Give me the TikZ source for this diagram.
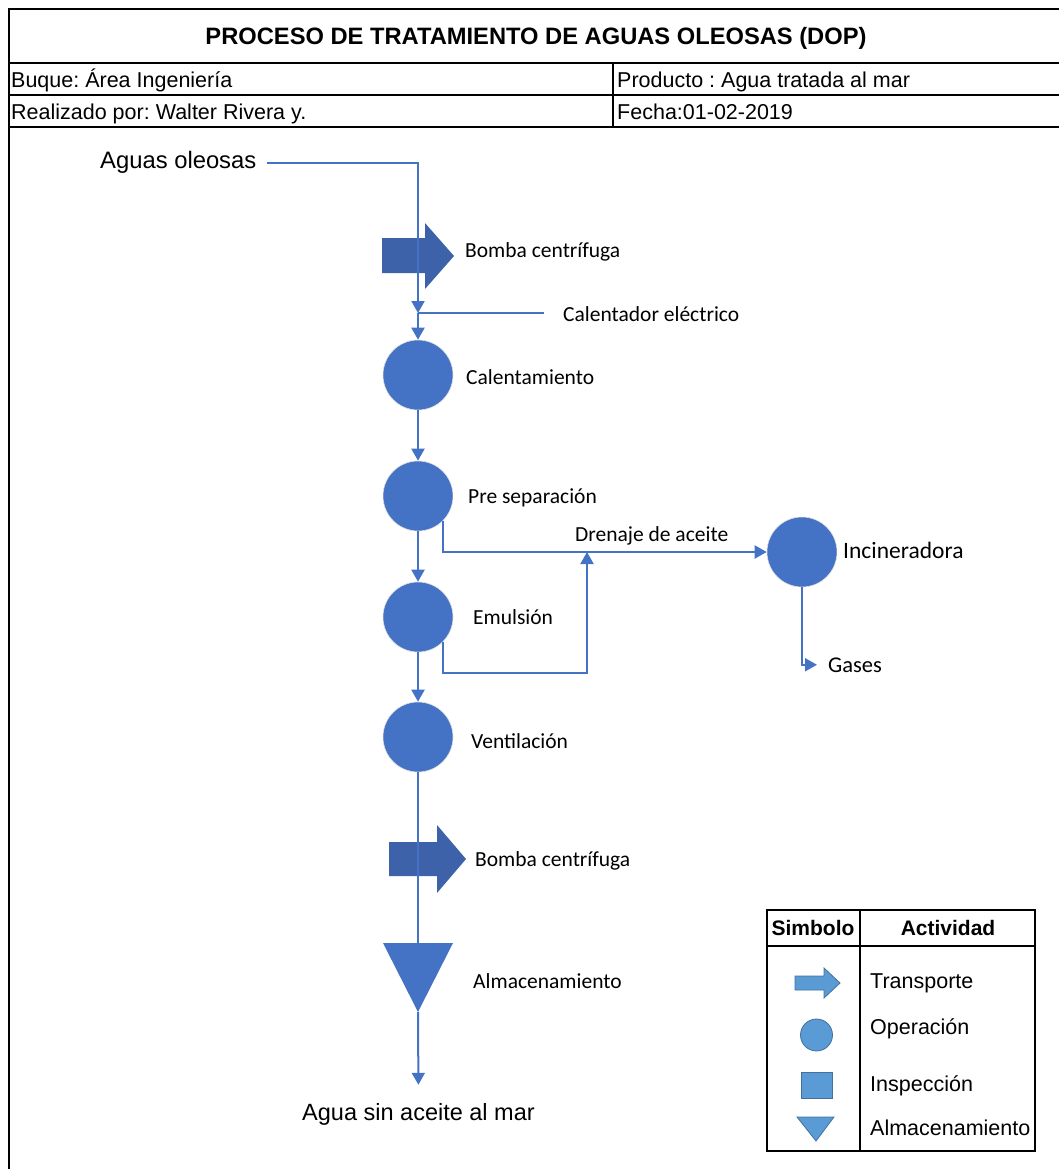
\documentclass[tikz,border=0pt]{standalone}
\usepackage{fontspec}
\setmainfont{Liberation Sans}
\newfontfamily\calibri{Carlito}
\usetikzlibrary{arrows.meta}
\definecolor{azul}{RGB}{68,114,196}
\definecolor{azulbomba}{RGB}{62,98,170}
\definecolor{azulley}{RGB}{91,155,213}
\definecolor{bordeley}{RGB}{65,113,156}
\frenchspacing

\begin{document}
\begin{tikzpicture}[x=1pt,y=-1pt,
  linea/.style={draw=azul, line width=2pt},
  flecha/.style={linea, -{Triangle[length=12pt,width=13pt]}},
  oper/.style={circle, fill=azul, draw=gray!25, line width=0.6pt, minimum size=70pt, inner sep=0pt},
  etiq/.style={font=\calibri\fontsize{21.5}{24}\selectfont, inner sep=0pt, anchor=base west},
  texto/.style={font=\fontsize{21.5}{24}\selectfont, inner sep=0pt, anchor=base west},
  simb/.style={fill=azulley, draw=bordeley, line width=0.8pt},
  marco/.style={line width=2.4pt, black},
  tabla/.style={line width=2pt, black}]
\useasboundingbox (0,0) rectangle (1059,1169);

% encabezado
\draw[marco] (1059,9) -- (9,9) -- (9,1169);
\draw[marco] (9,63) -- (1059,63);
\draw[marco] (9,95) -- (1059,95);
\draw[marco] (9,127) -- (1059,127);
\draw[marco] (613,63) -- (613,127);

\node[font=\bfseries\fontsize{23.7}{26}\selectfont, inner sep=0pt, anchor=base] (titulo) at (536,45) {PROCESO DE TRATAMIENTO DE AGUAS OLEOSAS (DOP)};
\node[texto] (buque) at (11,87.5) {Buque: Área Ingeniería};
\node[texto] (realiz) at (11,119.5) {Realizado por: Walter Rivera y.};
\node[texto] (producto) at (617,87.5) {Producto : Agua tratada al mar};
\node[texto] (fecha) at (617,119.5) {Fecha:01-02-2019};

% bombas
\fill[azulbomba] (382,238) -- (425,238) -- (425,223) -- (454,256) -- (425,289) -- (425,273) -- (382,273) -- cycle;
\fill[azulbomba] (389,842) -- (437,842) -- (437,825) -- (466,859) -- (437,893) -- (437,876) -- (389,876) -- cycle;

% operaciones
\node[oper] (calentam) at (418,375) {};
\node[oper] (presep) at (418,496) {};
\node[oper] (emuls) at (418,617) {};
\node[oper] (ventil) at (418,737) {};
\node[oper] (incin) at (802,552) {};

% almacenamiento
\coordinate (almsup) at (418,943);
\coordinate (almpunta) at (418,1012);
\fill[azul] (almsup) ++(-35,0) -- ++(70,0) -- (almpunta) -- cycle;

% textos
\node[font=\fontsize{23.8}{26}\selectfont, inner sep=0pt, anchor=base west] (aguas) at (100,169) {Aguas oleosas};
\node[etiq] (bomba1) at (465,257) {Bomba centrífuga};
\node[etiq] (calentador) at (563,321) {Calentador eléctrico};
\node[etiq] (calentamt) at (466,384) {Calentamiento};
\node[etiq] (presept) at (468,503) {Pre separación};
\node[etiq] (drenajet) at (575,541) {Drenaje de aceite};
\node[etiq, font=\calibri\fontsize{23.5}{26}\selectfont] (incint) at (843,558) {Incineradora};
\node[etiq] (emulst) at (473,624) {Emulsión};
\node[etiq, font=\calibri\fontsize{22.5}{25}\selectfont] (gases) at (828,672) {Gases};
\node[etiq] (ventilt) at (471,748) {Ventilación};
\node[etiq] (bomba2) at (475,866) {Bomba centrífuga};
\node[etiq] (almt) at (473,988) {Almacenamiento};
\node[font=\fontsize{23.5}{26}\selectfont, inner sep=0pt, anchor=base] (mar) at (418.5,1120) {Agua sin aceite al mar};

% conexiones
\coordinate (junta) at (418,313);
\coordinate (drenaje) at (587,552);
\draw[flecha] ([xshift=10pt]aguas.east) -| (junta);
\draw[linea] (junta) -- ([xshift=-19pt]junta -| calentador.west);
\draw[flecha] (junta) -- (calentam);
\draw[flecha] (calentam) -- (presep);
\draw[flecha] (presep) -- (emuls);
\draw[flecha] (emuls) -- (ventil);
\draw[flecha] (presep.-45) |- (incin);
\draw[flecha] (emuls.-45) -- ++(0,31) -| (drenaje);
\draw[flecha, shorten >=11pt] (incin) |- (gases.west);
\draw[linea] (ventil) -- (almsup);
\draw[flecha, shorten >=18pt] (almpunta) -- (mar.north);

% leyenda
\draw[tabla] (767,910) rectangle (1035,1151);
\draw[tabla] (767,946) -- (1035,946);
\draw[tabla] (860,910) -- (860,1151);
\node[font=\bfseries\fontsize{21}{24}\selectfont, inner sep=0pt, anchor=base] (simbolo) at (813,935) {Simbolo};
\node[font=\bfseries\fontsize{21}{24}\selectfont, inner sep=0pt, anchor=base] (activ) at (948,935) {Actividad};
\filldraw[simb] (795,976) -- (824,976) -- (824,968) -- (840,983) -- (824,998) -- (824,990) -- (795,990) -- cycle;
\node[simb, circle, minimum size=32pt, inner sep=0pt] (leyoper) at (816.5,1035) {};
\filldraw[simb] (801,1072) rectangle (832,1098);
\filldraw[simb] (797,1117) -- (834,1117) -- (816,1141) -- cycle;
\node[texto] (transp) at (870,988) {Transporte};
\node[texto] (operac) at (870,1034) {Operación};
\node[texto] (inspec) at (870,1091) {Inspección};
\node[texto] (almac) at (870,1135) {Almacenamiento};
\end{tikzpicture}
\end{document}
